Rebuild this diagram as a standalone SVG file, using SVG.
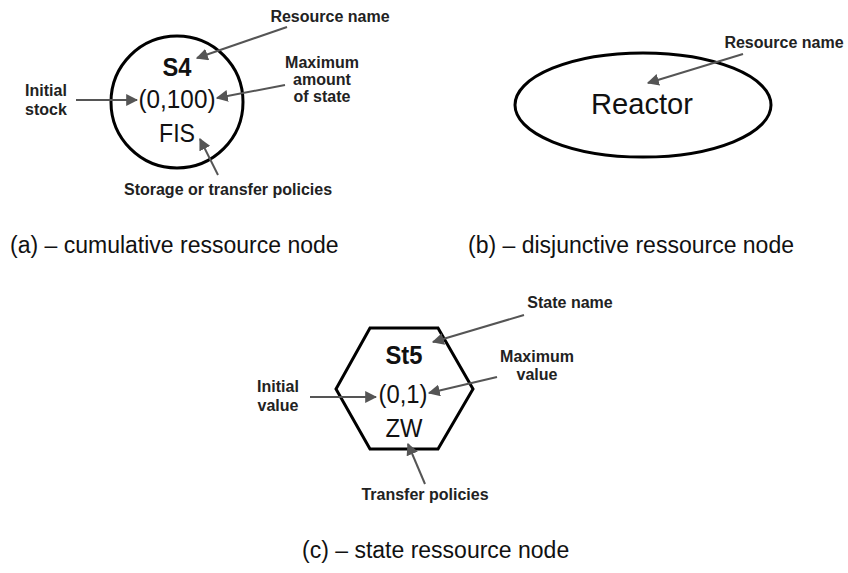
<svg xmlns="http://www.w3.org/2000/svg" width="848" height="573" viewBox="0 0 848 573">
  <defs>
    <style>
      .node { fill: #fff; stroke: #000; stroke-width: 3; }
      .big { font-family: "Liberation Sans", Arial, sans-serif; font-size: 26px; fill: #111; text-anchor: middle; }
      .bigb { font-family: "Liberation Sans", Arial, sans-serif; font-size: 26px; font-weight: bold; fill: #111; text-anchor: middle; }
      .lbl { font-family: "Liberation Sans", Arial, sans-serif; font-size: 16px; font-weight: bold; fill: #222; text-anchor: middle; }
      .cap { font-family: "Liberation Sans", Arial, sans-serif; font-size: 23px; fill: #111; }
      .arr { stroke: #555; stroke-width: 2; fill: none; marker-end: url(#head); }
    </style>
    <marker id="head" viewBox="0 0 10 10" refX="9" refY="5" markerWidth="6" markerHeight="6" markerUnits="strokeWidth" orient="auto">
      <path d="M0,0 L10,5 L0,10 z" fill="#555"/>
    </marker>
  </defs>

  <rect width="848" height="573" fill="#fff"/>

  <!-- (a) cumulative resource node -->
  <g id="node-s4">
    <circle class="node" cx="177" cy="102" r="66"/>
    <text class="bigb" x="177" y="76" textLength="29" lengthAdjust="spacingAndGlyphs">S4</text>
    <text class="big" x="177" y="108" textLength="77" lengthAdjust="spacingAndGlyphs">(0,100)</text>
    <text class="big" x="177" y="142" textLength="36" lengthAdjust="spacingAndGlyphs">FIS</text>
  </g>

  <!-- (b) disjunctive resource node -->
  <g id="node-reactor">
    <ellipse class="node" cx="643" cy="105" rx="128" ry="52"/>
    <text class="big" x="642" y="114" style="font-size:29px" textLength="102" lengthAdjust="spacingAndGlyphs">Reactor</text>
  </g>

  <!-- (c) state resource node -->
  <g id="node-st5">
    <polygon class="node" points="370,328 438,328 473,389 438,449 370,449 336,389"/>
    <text class="bigb" x="404" y="364" textLength="37" lengthAdjust="spacingAndGlyphs">St5</text>
    <text class="big" x="403" y="403" textLength="49" lengthAdjust="spacingAndGlyphs">(0,1)</text>
    <text class="big" x="404" y="437" textLength="37" lengthAdjust="spacingAndGlyphs">ZW</text>
  </g>

  <!-- annotation labels -->
  <g id="labels">
    <text class="lbl" x="330" y="22">Resource name</text>
    <text class="lbl" x="322" y="68">Maximum</text>
    <text class="lbl" x="322" y="85">amount</text>
    <text class="lbl" x="322" y="102">of state</text>
    <text class="lbl" x="46" y="96">Initial</text>
    <text class="lbl" x="46" y="115">stock</text>
    <text class="lbl" x="228" y="195">Storage or transfer policies</text>

    <text class="lbl" x="784" y="48">Resource name</text>

    <text class="lbl" x="570" y="308">State name</text>
    <text class="lbl" x="537" y="362">Maximum</text>
    <text class="lbl" x="537" y="380">value</text>
    <text class="lbl" x="278" y="392">Initial</text>
    <text class="lbl" x="278" y="411">value</text>
    <text class="lbl" x="425" y="500">Transfer policies</text>
  </g>

  <!-- connectors -->
  <g id="connectors">
    <line class="arr" x1="287" y1="27" x2="197" y2="58"/>
    <line class="arr" x1="285" y1="85" x2="217" y2="98"/>
    <line class="arr" x1="76" y1="100" x2="137" y2="100"/>
    <line class="arr" x1="218" y1="175" x2="200" y2="139"/>

    <line class="arr" x1="743" y1="54" x2="648" y2="83"/>

    <line class="arr" x1="524" y1="315" x2="433" y2="342"/>
    <line class="arr" x1="497" y1="377" x2="429" y2="393"/>
    <line class="arr" x1="310" y1="397" x2="376" y2="397"/>
    <line class="arr" x1="425" y1="484" x2="408" y2="444"/>
  </g>

  <!-- captions -->
  <g id="captions">
    <text class="cap" x="10" y="253">(a) – cumulative ressource node</text>
    <text class="cap" x="468" y="253">(b) – disjunctive ressource node</text>
    <text class="cap" x="302" y="558">(c) – state ressource node</text>
  </g>
</svg>
